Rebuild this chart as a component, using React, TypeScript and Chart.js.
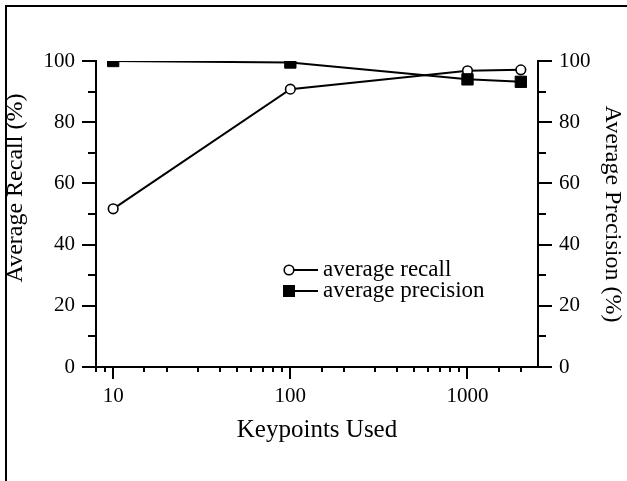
import React, { useEffect, useRef } from "react";
import { Chart, registerables } from "chart.js";

Chart.register(...registerables);

// ---- data ----
const keypoints = [10, 100, 1000, 2000];
const averageRecall = [51.7, 90.8, 96.8, 97.1];
const averagePrecision = [100, 99.5, 94.0, 93.2];
const yTickValues = [0, 20, 40, 60, 80, 100];
const xTickLabels = [10, 100, 1000];
const legendLabels = ["average recall", "average precision"];
const xTitle = "Keypoints Used";
const yLeftTitle = "Average Recall (%)";
const yRightTitle = "Average Precision (%)";

const FONT = "'Liberation Serif', 'Times New Roman', serif";
const W = 627;
const H = 481;

function line(ctx: CanvasRenderingContext2D, x1: number, y1: number, x2: number, y2: number) {
  ctx.beginPath();
  ctx.moveTo(x1, y1);
  ctx.lineTo(x2, y2);
  ctx.stroke();
}

const framePlugin = {
  id: "frame",
  beforeDraw(chart: any) {
    const ctx = chart.ctx as CanvasRenderingContext2D;
    ctx.save();
    ctx.fillStyle = "#fff";
    ctx.fillRect(0, 0, chart.width, chart.height);
    ctx.strokeStyle = "#000";
    ctx.lineWidth = 2;
    ctx.beginPath();
    ctx.moveTo(6, chart.height);
    ctx.lineTo(6, 6);
    ctx.lineTo(chart.width, 6);
    ctx.stroke();
    ctx.restore();
  },
};

const axisTicksPlugin = {
  id: "axisTicks",
  afterDraw(chart: any) {
    const ctx = chart.ctx as CanvasRenderingContext2D;
    const { x, y, y1 } = chart.scales;
    ctx.save();
    ctx.strokeStyle = "#000";
    ctx.lineWidth = 2;
    const step = (yTickValues[1] - yTickValues[0]) / 2;
    for (let v = y.min; v <= y.max + 1e-9; v += step) {
      const py = Math.round(y.getPixelForValue(v));
      const major = yTickValues.includes(v);
      const len = major ? 14 : 8;
      line(ctx, y.right - len, py, y.right, py);
      line(ctx, y1.left, py, y1.left + len, py);
    }
    x.ticks.forEach((t: any) => {
      if (t.value >= x.max) return;
      const px = Math.round(x.getPixelForValue(t.value));
      const major = xTickLabels.includes(t.value);
      const len = major ? 12 : 5;
      line(ctx, px, x.top, px, x.top + len);
    });
    // left axis title (placed slightly above the axis centre, as in the source)
    ctx.fillStyle = "#000";
    ctx.font = `24px ${FONT}`;
    ctx.textAlign = "center";
    ctx.textBaseline = "middle";
    ctx.translate(16, 188);
    ctx.rotate(-Math.PI / 2);
    ctx.fillText(yLeftTitle, 0, 0);
    ctx.restore();
  },
};

const legendPlugin = {
  id: "customLegend",
  afterDraw(chart: any) {
    const ctx = chart.ctx as CanvasRenderingContext2D;
    ctx.save();
    const rows = [
      { label: legendLabels[0], kind: "circle", y: 270 },
      { label: legendLabels[1], kind: "square", y: 291 },
    ];
    rows.forEach((r) => {
      ctx.strokeStyle = "#000";
      ctx.lineWidth = 2;
      line(ctx, 289, r.y, 318, r.y);
      if (r.kind === "circle") {
        ctx.beginPath();
        ctx.arc(289, r.y, 4.8, 0, Math.PI * 2);
        ctx.fillStyle = "#fff";
        ctx.fill();
        ctx.lineWidth = 1.6;
        ctx.stroke();
      } else {
        ctx.fillStyle = "#000";
        ctx.fillRect(283, r.y - 6, 12, 12);
      }
      ctx.fillStyle = "#000";
      ctx.font = `23px ${FONT}`;
      ctx.textBaseline = "middle";
      ctx.textAlign = "left";
      ctx.fillText(r.label, 323, r.y);
    });
    ctx.restore();
  },
};

export default function App() {
  const ref = useRef<HTMLCanvasElement>(null);

  useEffect(() => {
    if (!ref.current) return;
    const tickFont = { family: FONT, size: 21 };
    const chart = new Chart(ref.current, {
      type: "line",
      data: {
        datasets: [
          {
            label: legendLabels[0],
            data: keypoints.map((k, i) => ({ x: k, y: averageRecall[i] })),
            yAxisID: "y",
            borderColor: "#000",
            borderWidth: 2,
            pointStyle: "circle",
            pointRadius: 4.8,
            pointBorderWidth: 1.6,
            pointBackgroundColor: "#fff",
            pointBorderColor: "#000",
            tension: 0,
            order: 1,
          },
          {
            label: legendLabels[1],
            data: keypoints.map((k, i) => ({ x: k, y: averagePrecision[i] })),
            yAxisID: "y1",
            borderColor: "#000",
            borderWidth: 2,
            pointStyle: "rect",
            pointRadius: 8,
            pointBorderWidth: 1,
            pointBackgroundColor: "#000",
            pointBorderColor: "#000",
            tension: 0,
            order: 0,
          },
        ],
      },
      options: {
        responsive: false,
        animation: false,
        devicePixelRatio: 1,
        layout: { padding: { left: 0, right: 0, top: 61, bottom: 0 } },
        plugins: {
          legend: { display: false },
          tooltip: { enabled: false },
        },
        scales: {
          x: {
            type: "logarithmic",
            position: "bottom",
            min: 8,
            max: 2500,
            grid: { display: false, drawTicks: false },
            border: { display: true, color: "#000", width: 2 },
            ticks: {
              autoSkip: false,
              maxRotation: 0,
              minRotation: 0,
              padding: 17,
              color: "#000",
              font: tickFont,
              callback: (v: any) => (xTickLabels.includes(Number(v)) ? String(v) : ""),
            },
            title: {
              display: true,
              text: xTitle,
              color: "#000",
              font: { family: FONT, size: 25 },
              padding: { top: 0, bottom: 36 },
            },
            afterFit: (s: any) => {
              s.height = H - 367;
            },
          },
          y: {
            type: "linear",
            position: "left",
            min: 0,
            max: 100,
            grid: { display: false, drawTicks: false },
            border: { display: true, color: "#000", width: 2 },
            ticks: {
              stepSize: 20,
              padding: 21,
              color: "#000",
              font: tickFont,
            },
            title: { display: false },
            afterFit: (s: any) => {
              s.width = 96;
            },
          },
          y1: {
            type: "linear",
            position: "right",
            min: 0,
            max: 100,
            grid: { display: false, drawTicks: false },
            border: { display: true, color: "#000", width: 2 },
            ticks: {
              stepSize: 20,
              padding: 21,
              color: "#000",
              font: tickFont,
            },
            title: {
              display: true,
              text: yRightTitle,
              color: "#000",
              font: { family: FONT, size: 24 },
              padding: { top: 0, bottom: 0 },
            },
            afterFit: (s: any) => {
              s.width = W - 538;
            },
          },
        },
      },
      plugins: [framePlugin, axisTicksPlugin, legendPlugin],
    });
    return () => chart.destroy();
  }, []);

  return (
    <div style={{ position: "absolute", left: 0, top: 0, width: W, height: H }}>
      <canvas ref={ref} width={W} height={H} style={{ display: "block" }} />
    </div>
  );
}
